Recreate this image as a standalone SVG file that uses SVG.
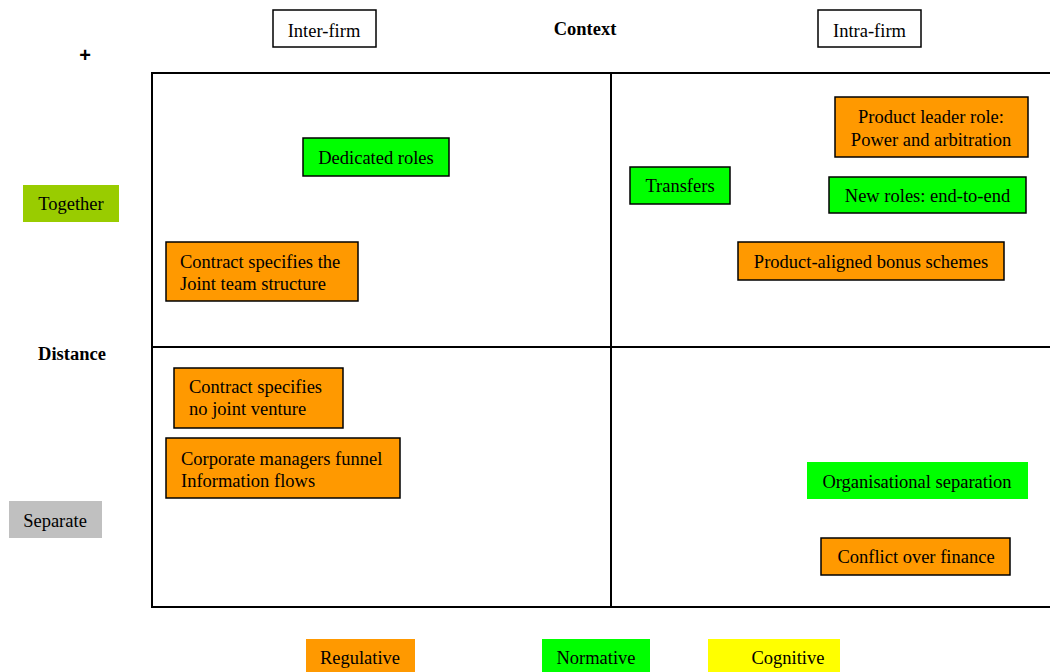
<svg xmlns="http://www.w3.org/2000/svg" width="1050" height="672" viewBox="0 0 1050 672">
  <style>
    text { font-family: "Liberation Serif", "Times New Roman", serif; font-size: 18.5px; fill: #000; }
    .c { text-anchor: middle; }
    .b { font-weight: bold; }
    .plus { font-family: "Liberation Sans", Arial, sans-serif; font-size: 20px; font-weight: bold; }
    .reg { fill: #FF9900; stroke: #000; stroke-width: 1.5; }
    .nor { fill: #00FF00; stroke: #000; stroke-width: 1.5; }
    .hdr { fill: #FFFFFF; stroke: #000; stroke-width: 1.5; }
    .grid { fill: none; stroke: #000; stroke-width: 2; }
  </style>

  <!-- quadrant frame -->
  <g id="grid">
    <path class="grid" d="M1052,73 H152 V607 H1052 M611,73 V607 M152,347 H1052"/>
  </g>

  <!-- axis headers -->
  <g id="header-inter">
    <rect class="hdr" x="273" y="10" width="103" height="37"/>
    <text class="c" x="324" y="37">Inter-firm</text>
  </g>
  <g id="header-context">
    <text class="c b" x="585" y="35">Context</text>
  </g>
  <g id="header-intra">
    <rect class="hdr" x="818" y="10" width="103" height="37"/>
    <text class="c" x="869.5" y="37">Intra-firm</text>
  </g>
  <g id="axis-plus">
    <text class="c plus" x="85" y="62">+</text>
  </g>
  <g id="axis-together">
    <rect x="23" y="185" width="96" height="37" fill="#99CC00"/>
    <text class="c" x="71" y="210">Together</text>
  </g>
  <g id="axis-distance">
    <text class="c b" x="72" y="360">Distance</text>
  </g>
  <g id="axis-separate">
    <rect x="9" y="501" width="93" height="37" fill="#C0C0C0"/>
    <text class="c" x="55" y="527">Separate</text>
  </g>

  <!-- inter-firm / together -->
  <g id="dedicated-roles">
    <rect class="nor" x="303" y="138" width="146" height="38"/>
    <text class="c" x="376" y="164">Dedicated roles</text>
  </g>
  <g id="contract-joint-team">
    <rect class="reg" x="166" y="242" width="192" height="59"/>
    <text x="180" y="268">Contract specifies the</text>
    <text x="180" y="290">Joint team structure</text>
  </g>

  <!-- intra-firm / together -->
  <g id="product-leader">
    <rect class="reg" x="835" y="97" width="193" height="60"/>
    <text class="c" x="931" y="123">Product leader role:</text>
    <text class="c" x="931" y="146">Power and arbitration</text>
  </g>
  <g id="transfers">
    <rect class="nor" x="630" y="167" width="100" height="37"/>
    <text class="c" x="680" y="192">Transfers</text>
  </g>
  <g id="new-roles">
    <rect class="nor" x="829" y="177" width="197" height="36"/>
    <text class="c" x="927.5" y="202">New roles: end-to-end</text>
  </g>
  <g id="bonus-schemes">
    <rect class="reg" x="738" y="242" width="266" height="38"/>
    <text class="c" x="871" y="268">Product-aligned bonus schemes</text>
  </g>

  <!-- inter-firm / separate -->
  <g id="contract-no-jv">
    <rect class="reg" x="174" y="368" width="169" height="60"/>
    <text x="189" y="393">Contract specifies</text>
    <text x="189" y="415">no joint venture</text>
  </g>
  <g id="corporate-managers">
    <rect class="reg" x="166" y="438" width="234" height="60"/>
    <text x="181" y="465">Corporate managers funnel</text>
    <text x="181" y="487">Information flows</text>
  </g>

  <!-- intra-firm / separate -->
  <g id="organisational-separation">
    <rect x="807" y="462" width="221" height="37" fill="#00FF00"/>
    <text class="c" x="917" y="488">Organisational separation</text>
  </g>
  <g id="conflict-finance">
    <rect class="reg" x="821" y="538" width="189" height="37"/>
    <text class="c" x="916" y="563">Conflict over finance</text>
  </g>

  <!-- key -->
  <g id="key-regulative">
    <rect x="306" y="639" width="109" height="33" fill="#FF9900"/>
    <text class="c" x="360" y="664">Regulative</text>
  </g>
  <g id="key-normative">
    <rect x="542" y="639" width="108" height="33" fill="#00FF00"/>
    <text class="c" x="596" y="664">Normative</text>
  </g>
  <g id="key-cognitive">
    <rect x="708" y="639" width="132" height="33" fill="#FFFF00"/>
    <text class="c" x="788" y="664">Cognitive</text>
  </g>
</svg>
